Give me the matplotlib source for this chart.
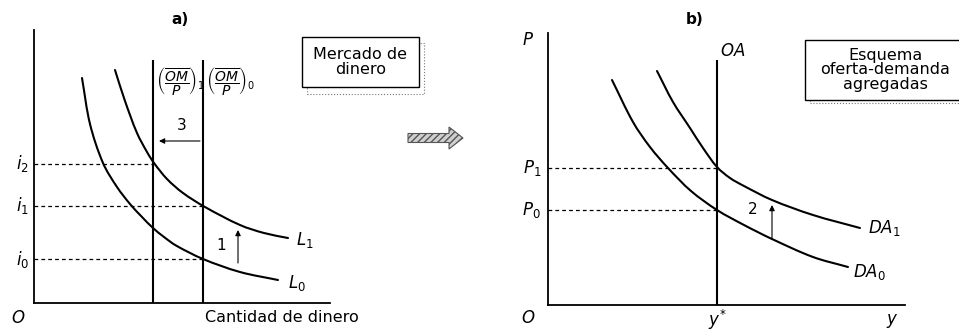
import matplotlib
matplotlib.use('Agg')
import matplotlib.pyplot as plt
import numpy as np
from matplotlib.patches import Rectangle, FancyArrow, PathPatch
from matplotlib.path import Path
from matplotlib.transforms import IdentityTransform

plt.rcParams['font.family'] = 'DejaVu Sans'
plt.rcParams['mathtext.fontset'] = 'dejavusans'

# ---- panel a) mercado de dinero ----
l0_x = [4.8, 5.6, 6.9, 8.3, 9.6, 10.8, 11.9, 13.0, 14.2, 16.9, 20.6, 24.4]
l0_y = [22.5, 17.9, 14.0, 11.6, 9.9, 8.6, 7.5, 6.6, 5.75, 4.4, 3.1, 2.3]
l1_x = [8.1, 9.1, 10.3, 11.3, 12.0, 13.3, 14.9, 17.1, 20.6, 23.0, 25.4]
l1_y = [23.3, 20.2, 17.0, 15.1, 14.0, 12.4, 11.0, 9.6, 7.8, 7.0, 6.5]
om_x = [11.9, 16.9]          # (OM/P)_1, (OM/P)_0
om_top = 24.3
i_vals = [4.4, 9.7, 13.9]    # i0, i1, i2
i_ends = [16.9, 16.9, 11.9]
i_labels = ['$i_0$', '$i_1$', '$i_2$']

# ---- panel b) oferta-demanda agregadas ----
da0_x = [6.4, 8.5, 10.2, 12.0, 14.3, 16.9, 19.6, 22.4, 26.5, 30.0]
da0_y = [22.5, 18.3, 15.8, 13.7, 11.4, 9.5, 8.0, 6.6, 4.8, 3.8]
da1_x = [10.9, 12.5, 14.2, 15.5, 16.9, 18.2, 19.6, 22.4, 26.5, 31.2]
da1_y = [23.4, 20.3, 17.7, 15.7, 13.8, 12.7, 11.9, 10.5, 9.0, 7.7]
y_star = 16.9
oa_top = 24.5
p_vals = [9.5, 13.7]         # P0, P1
p_labels = ['$P_0$', '$P_1$']


def smooth(ax, xs, ys):
    # curva suave por los puntos leidos (tangentes por cuerda -> Bezier)
    p = np.column_stack([xs, ys])
    n = len(p)
    tang = np.zeros_like(p)
    for k in range(n):
        d = p[min(k + 1, n - 1)] - p[max(k - 1, 0)]
        tang[k] = d / np.hypot(*d)
    verts = [tuple(p[0])]
    codes = [Path.MOVETO]
    for k in range(n - 1):
        L = np.hypot(*(p[k + 1] - p[k])) / 3
        verts += [tuple(p[k] + tang[k] * L), tuple(p[k + 1] - tang[k + 1] * L),
                  tuple(p[k + 1])]
        codes += [Path.CURVE4] * 3
    ax.add_patch(PathPatch(Path(verts, codes), fill=False, lw=1.5,
                           edgecolor='black', capstyle='round'))


fig = plt.figure(figsize=(9.59, 3.32), dpi=100)
ax1 = fig.add_axes([34/959, 29/332, 296/959, 273/332])
ax2 = fig.add_axes([548/959, 27/332, 357/959, 272/332])

for ax, xl, yl in ((ax1, 29.6, 27.3), (ax2, 35.7, 27.2)):
    ax.set_xlim(0, xl)
    ax.set_ylim(0, yl)
    ax.set_xticks([])
    ax.set_yticks([])
    ax.spines['top'].set_visible(False)
    ax.spines['right'].set_visible(False)
    ax.spines['left'].set_linewidth(1.3)
    ax.spines['bottom'].set_linewidth(1.3)
    ax.patch.set_alpha(0)

dash = (0, (3, 2.5))
lab = dict(fontsize=12, color='black')
arr = dict(arrowstyle='-|>', lw=0.8, color='black', mutation_scale=8,
           shrinkA=0, shrinkB=0)

# panel a
smooth(ax1, l0_x, l0_y)
smooth(ax1, l1_x, l1_y)
ax1.vlines(om_x, 0, om_top, color='black', lw=1.5)
ax1.hlines(i_vals, 0, i_ends, color='black', lw=0.9, linestyles=[dash])
for v, t in zip(i_vals, i_labels):
    ax1.text(-0.5, v, t, ha='right', va='center', clip_on=False, **lab)
ax1.text(-1.6, -1.5, '$O$', ha='center', va='center', clip_on=False, **lab)
ax1.text(17.1, -1.5, 'Cantidad de dinero', ha='left', va='center',
         fontsize=11.5, clip_on=False)
ax1.text(14.6, 28.3, 'a)', ha='center', va='center', fontsize=11,
         fontweight='bold', clip_on=False)
ax1.text(12.2, 22.2, r'$\left(\dfrac{\overline{OM}}{P}\right)_1$',
         ha='left', va='center', fontsize=10)
ax1.text(17.2, 22.2, r'$\left(\dfrac{\overline{OM}}{P}\right)_0$',
         ha='left', va='center', fontsize=10)
ax1.text(26.2, 6.3, '$L_1$', ha='left', va='center', **lab)
ax1.text(25.4, 2.0, '$L_0$', ha='left', va='center', **lab)
ax1.text(14.8, 17.8, '3', ha='center', va='center', fontsize=11)
ax1.annotate('', xy=(12.5, 16.2), xytext=(16.6, 16.2), arrowprops=arr)
ax1.text(18.7, 5.8, '1', ha='center', va='center', fontsize=11)
ax1.annotate('', xy=(20.4, 7.3), xytext=(20.4, 4.0), arrowprops=arr)
# recuadro
ax1.add_patch(Rectangle((27.3, 20.9), 11.7, 5.1, fill=False, lw=0.8,
                        ls=':', edgecolor='#777777', clip_on=False))
ax1.add_patch(Rectangle((26.8, 21.6), 11.7, 5.0, facecolor='white',
                        edgecolor='black', lw=1.0, clip_on=False, zorder=3))
ax1.text(32.65, 24.1, 'Mercado de\ndinero', ha='center', va='center',
         fontsize=11.5, linespacing=1.0, zorder=4, clip_on=False)

# panel b
smooth(ax2, da0_x, da0_y)
smooth(ax2, da1_x, da1_y)
ax2.vlines(y_star, 0, oa_top, color='black', lw=1.5)
ax2.hlines(p_vals, 0, y_star, color='black', lw=0.9, linestyles=[dash])
for v, t in zip(p_vals, p_labels):
    ax2.text(-0.7, v, t, ha='right', va='center', clip_on=False, **lab)
ax2.text(-2.0, 26.5, '$P$', ha='center', va='center', clip_on=False, **lab)
ax2.text(-2.0, -1.3, '$O$', ha='center', va='center', clip_on=False, **lab)
ax2.text(y_star, -1.45, '$y^{*}$', ha='center', va='center', clip_on=False, **lab)
ax2.text(34.4, -1.6, '$y$', ha='center', va='center', clip_on=False, **lab)
ax2.text(18.5, 25.4, '$OA$', ha='center', va='center', **lab)
ax2.text(32.0, 7.7, '$DA_1$', ha='left', va='center', **lab)
ax2.text(30.5, 3.3, '$DA_0$', ha='left', va='center', **lab)
ax2.text(14.7, 28.5, 'b)', ha='center', va='center', fontsize=11,
         fontweight='bold', clip_on=False)
ax2.text(20.5, 9.5, '2', ha='center', va='center', fontsize=11)
ax2.annotate('', xy=(22.4, 10.0), xytext=(22.4, 6.6), arrowprops=arr)
ax2.add_patch(Rectangle((26.2, 20.2), 16.0, 5.9, fill=False, lw=0.8,
                        ls=':', edgecolor='#777777', clip_on=False))
ax2.add_patch(Rectangle((25.7, 20.5), 16.0, 6.0, facecolor='white',
                        edgecolor='black', lw=1.0, clip_on=False, zorder=3))
ax2.text(33.7, 23.5, 'Esquema\noferta-demanda\nagregadas', ha='center',
         va='center', fontsize=11.5, linespacing=0.95, zorder=4, clip_on=False)

# flecha entre paneles
fig.add_artist(FancyArrow(408, 194, 41, 0, width=9, head_width=22,
                          head_length=14, length_includes_head=False,
                          facecolor='#cfcfcf', edgecolor='#555555',
                          hatch='/////', lw=0.8, transform=IdentityTransform()))

fig.savefig('out.png', dpi=100)
